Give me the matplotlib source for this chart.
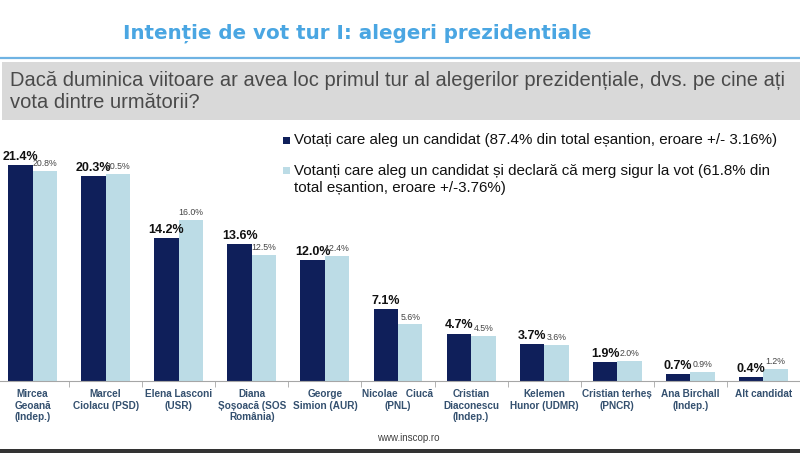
import numpy as np
import matplotlib
matplotlib.use("Agg")
from matplotlib import pyplot as plt
from matplotlib.patches import Rectangle

plt.rcParams['font.family'] = ['Liberation Sans', 'DejaVu Sans']

candidates = ["Mircea\nGeoană\n(Indep.)", "Marcel\nCiolacu (PSD)", "Elena Lasconi\n(USR)",
              "Diana\nȘoșoacă (SOS\nRomânia)", "George\nSimion (AUR)", "Nicolae   Ciucă\n(PNL)",
              "Cristian\nDiaconescu\n(Indep.)", "Kelemen\nHunor (UDMR)", "Cristian terheș\n(PNCR)",
              "Ana Birchall\n(Indep.)", "Alt candidat"]
all_voters = [21.4, 20.3, 14.2, 13.6, 12.0, 7.1, 4.7, 3.7, 1.9, 0.7, 0.4]
sure_voters = [20.8, 20.5, 16.0, 12.5, 12.4, 5.6, 4.5, 3.6, 2.0, 0.9, 1.2]

legend_all = "Votați care aleg un candidat (87.4% din total eșantion, eroare +/- 3.16%)"
legend_sure = "Votanți care aleg un candidat și declară că merg sigur la vot (61.8% din\ntotal eșantion, eroare +/-3.76%)"
title = "Intenție de vot tur I: alegeri prezidentiale"
question = "Dacă duminica viitoare ar avea loc primul tur al alegerilor prezidențiale, dvs. pe cine ați\nvota dintre următorii?"

dark = "#0f1f5a"
light = "#bcdce6"
W, H = 800, 453

fig = plt.figure(figsize=(W / 100, H / 100), dpi=100)

# header: title, rule, grey question box
fig.text(357 / W, 1 - 33 / H, title, ha="center", va="center", fontsize=14.3,
         fontweight="bold", color="#4aa6e2", family="DejaVu Sans")
fig.add_artist(plt.Line2D([0, 1], [1 - 58 / H] * 2, color="#6fb3e3", lw=1.6))
fig.add_artist(Rectangle((2 / W, 1 - 120 / H), 798 / W, 58 / H, transform=fig.transFigure,
                         facecolor="#d9d9d9", edgecolor="none"))
fig.text(10 / W, 1 - 91.5 / H, question, ha="left", va="center", fontsize=14.5,
         color="#4a4a4a", linespacing=1.2)

# bottom strip and source
fig.add_artist(Rectangle((0, 0), 1, 4 / H, transform=fig.transFigure,
                         facecolor="#333333", edgecolor="none"))
fig.text(408 / W, 1 - 438 / H, "www.inscop.ro", ha="center", va="center",
         fontsize=7, color="#404040")

# category slots are ~73 px wide, first one starts just left of the canvas
ax = fig.add_axes([-4 / W, (H - 381) / H, 804 / W, 251 / H])
x = np.arange(len(candidates))
bw = 0.335
ax.bar(x - bw / 2, all_voters, bw, color=dark)
ax.bar(x + bw / 2, sure_voters, bw, color=light)
ax.set_xlim(-0.5, len(candidates) - 0.5)
ax.set_ylim(0, 251 / 10.09)

for xi, v in zip(x, all_voters):
    ax.annotate("%.1f%%" % v, (xi - bw / 2, v), xytext=(0, 1.5), textcoords="offset points",
                ha="center", va="bottom", fontsize=9, fontweight="bold", color="#111111")
for xi, v in zip(x, sure_voters):
    ax.annotate("%.1f%%" % v, (xi + bw / 2, v), xytext=(0, 2), textcoords="offset points",
                ha="center", va="bottom", fontsize=6.3, color="#444444")

for s in ["top", "right", "left"]:
    ax.spines[s].set_visible(False)
ax.spines["bottom"].set_color("#a6a6a6")
ax.set_yticks([])
ax.set_xticks(x)
ax.set_xticklabels(candidates, fontsize=7.2, fontweight="bold", color="#34506f",
                   linespacing=1.15)
ax.set_xticks(np.arange(len(candidates) + 1) - 0.5, minor=True)
ax.tick_params(axis="x", which="major", length=0, pad=6)
ax.tick_params(axis="x", which="minor", length=4, color="#a6a6a6")

# legend drawn by hand
fig.add_artist(Rectangle((283 / W, 1 - 144 / H), 7 / W, 7 / H, transform=fig.transFigure,
                         facecolor=dark, edgecolor="none"))
fig.text(294 / W, 1 - 140 / H, legend_all, ha="left", va="center", fontsize=10.9, color="#111111")
fig.add_artist(Rectangle((283 / W, 1 - 173.5 / H), 7 / W, 7 / H, transform=fig.transFigure,
                         facecolor=light, edgecolor="none"))
fig.text(294 / W, 1 - 179.5 / H, legend_sure, ha="left", va="center", fontsize=10.9,
         color="#111111", linespacing=1.25)

fig.savefig("out.png", dpi=100)
